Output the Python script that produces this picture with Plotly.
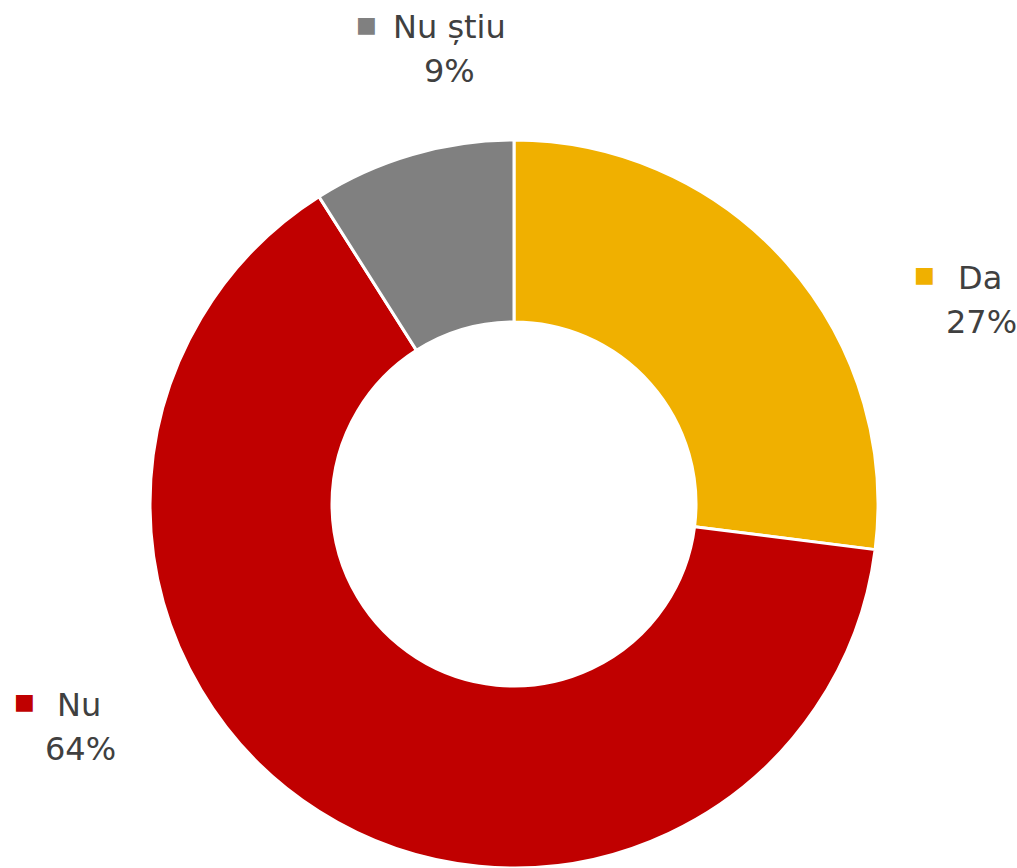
import plotly.graph_objects as go

labels = ["Da", "Nu", "Nu știu"]
values = [27, 64, 9]
colors = ["#F0B000", "#C00000", "#808080"]

W, H = 1017, 868

fig = go.Figure(
    go.Pie(
        labels=labels,
        values=values,
        marker=dict(colors=colors, line=dict(color="white", width=3)),
        hole=0.5,
        sort=False,
        direction="clockwise",
        rotation=0,
        textinfo="none",
        hoverinfo="label+percent",
        domain=dict(x=[150 / W, 878 / W], y=[0, 728 / H]),
        showlegend=False,
    )
)

# label anchor points (pixel centers) for name, percent and colour key
label_pos = {
    "Nu știu": dict(name=(449, 27), pct=(449, 71), key=(366, 25)),
    "Da": dict(name=(980, 278), pct=(981, 322), key=(924, 274)),
    "Nu": dict(name=(79, 705), pct=(80, 749), key=(24, 701)),
}

font = dict(family="DejaVu Sans", size=32, color="#404040")
annotations = []
for lab, val, col in zip(labels, values, colors):
    p = label_pos[lab]
    for txt, (px, py) in ((lab, p["name"]), (f"{val}%", p["pct"])):
        annotations.append(dict(
            x=px / W, y=1 - py / H, xref="paper", yref="paper",
            text=txt, showarrow=False, font=font,
            xanchor="center", yanchor="middle",
        ))
    kx, ky = p["key"]
    annotations.append(dict(
        x=kx / W, y=1 - ky / H, xref="paper", yref="paper",
        text=f"<span style='color:{col}'>■</span>", showarrow=False,
        font=dict(family="DejaVu Sans", size=22, color=col),
        xanchor="center", yanchor="middle",
    ))

fig.update_layout(
    width=W, height=H,
    margin=dict(l=0, r=0, t=0, b=0),
    paper_bgcolor="white", plot_bgcolor="white",
    annotations=annotations,
)

fig.write_html("out.html")
